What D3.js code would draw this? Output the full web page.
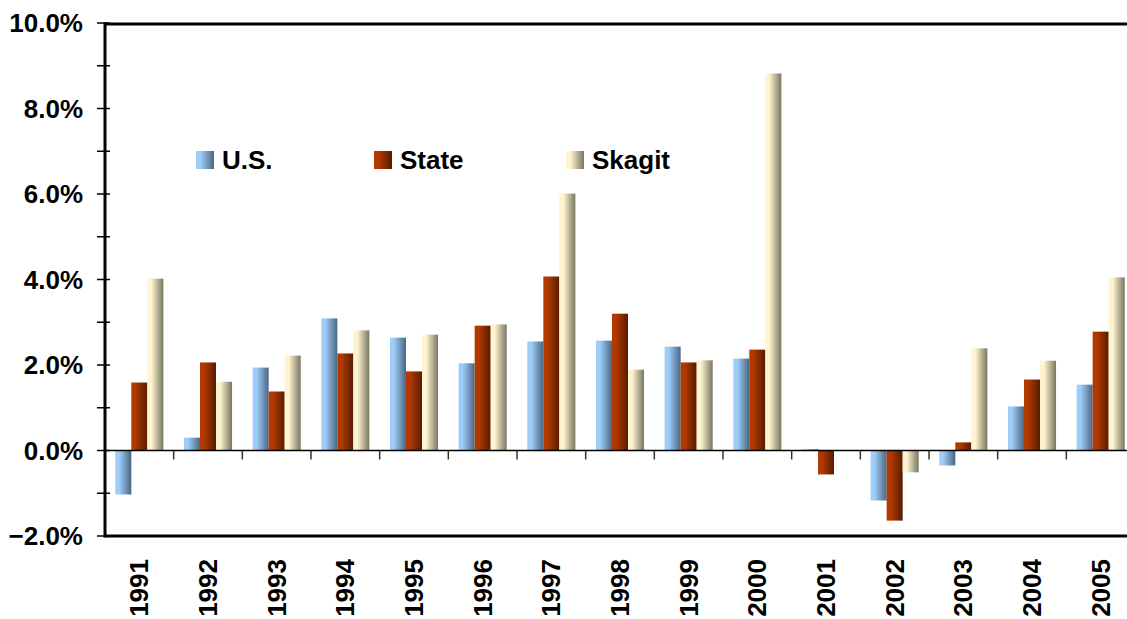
<!DOCTYPE html>
<html>
<head>
<meta charset="utf-8">
<script src="https://cdn.jsdelivr.net/npm/d3@7"></script>
<style>
    body { margin: 0; background: #fff; }
    text { font-family: Arial, "Liberation Sans", sans-serif; font-weight: bold; }
</style>
</head>
<body>
<div id="vis"></div>
<script>
// data (annual % change)
const years = ["1991", "1992", "1993", "1994", "1995", "1996", "1997", "1998",
    "1999", "2000", "2001", "2002", "2003", "2004", "2005"];
const seriesNames = ["U.S.", "State", "Skagit"];
const usValues = [-1.03, 0.30, 1.94, 3.09, 2.64, 2.04, 2.55, 2.57, 2.43, 2.15, 0.03, -1.17, -0.35, 1.03, 1.54];
const stateValues = [1.59, 2.06, 1.38, 2.27, 1.85, 2.92, 4.07, 3.20, 2.06, 2.36, -0.56, -1.64, 0.19, 1.66, 2.78];
const skagitValues = [4.02, 1.61, 2.22, 2.81, 2.71, 2.95, 6.01, 1.89, 2.11, 8.82, 0.00, -0.51, 2.39, 2.10, 4.05];
const yTicks = [-2, 0, 2, 4, 6, 8, 10];

const allValues = [usValues, stateValues, skagitValues];

const svg = d3.select("#vis")
    .append('svg')
    .attr("width", "1127")
    .attr("height", "619");

const width = +svg.attr("width");
const height = +svg.attr("height");

// gradient fills, light on the left, dark on the right
const gradColors = [
    ["#9dcdf8", "#4b6683"],
    ["#b23a00", "#571c00"],
    ["#fff4cf", "#7a7662"]
];
const defs = svg.append("defs");
gradColors.forEach(function (c, i) {
    const g = defs.append("linearGradient")
        .attr("id", "grad" + i)
        .attr("x1", "0%").attr("x2", "100%")
        .attr("y1", "0%").attr("y2", "0%");
    g.append("stop").attr("offset", "0%").attr("stop-color", c[0]);
    g.append("stop").attr("offset", "25%").attr("stop-color", c[0]);
    g.append("stop").attr("offset", "100%").attr("stop-color", c[1]);
});

const left = 105;
const x = d3.scaleBand()
    .domain(years)
    .range([left, 1135])
    .padding(0);

const groupW = x.bandwidth() * 0.7;
const xSub = d3.scaleBand()
    .domain(d3.range(seriesNames.length))
    .range([(x.bandwidth() - groupW) / 2, (x.bandwidth() + groupW) / 2]);

const y = d3.scaleLinear()
    .domain([-2, 10])
    .range([536, 23]);

// bars
allValues.forEach(function (vals, s) {
    svg.append("g")
        .selectAll("rect")
        .data(vals)
        .enter()
        .append("rect")
        .attr("x", (d, i) => x(years[i]) + xSub(s))
        .attr("width", xSub.bandwidth())
        .attr("y", d => y(Math.max(0, d)))
        .attr("height", d => Math.abs(y(d) - y(0)))
        .attr("fill", "url(#grad" + s + ")");
});

// zero line and category ticks
svg.append("line")
    .attr("x1", left).attr("x2", width)
    .attr("y1", y(0)).attr("y2", y(0))
    .attr("stroke", "#000")
    .attr("stroke-width", 1.5);

svg.append("g")
    .selectAll("line")
    .data(years.slice(1))
    .enter()
    .append("line")
    .attr("x1", d => x(d)).attr("x2", d => x(d))
    .attr("y1", y(0)).attr("y2", y(0) + 9)
    .attr("stroke", "#333")
    .attr("stroke-width", 1.5);

// frame: top, left, bottom
svg.append("line")
    .attr("x1", left).attr("x2", width)
    .attr("y1", y(10) + 1).attr("y2", y(10) + 1)
    .attr("stroke", "#000").attr("stroke-width", 3);

svg.append("line")
    .attr("x1", left).attr("x2", width)
    .attr("y1", y(-2)).attr("y2", y(-2))
    .attr("stroke", "#000").attr("stroke-width", 3);

svg.append("line")
    .attr("x1", left).attr("x2", left)
    .attr("y1", y(10) - 0.5).attr("y2", y(-2) + 1.5)
    .attr("stroke", "#000").attr("stroke-width", 3);

// y ticks (major every 2%, minor every 1%)
svg.append("g")
    .selectAll("line")
    .data(d3.range(-2, 11, 1))
    .enter()
    .append("line")
    .attr("x1", left - 8).attr("x2", left + 5)
    .attr("y1", d => y(d)).attr("y2", d => y(d))
    .attr("stroke", "#000")
    .attr("stroke-width", 1.5);

svg.append("g")
    .selectAll("text")
    .data(yTicks)
    .enter()
    .append("text")
    .attr("x", 83)
    .attr("y", d => y(d))
    .attr("dy", "0.36em")
    .attr("text-anchor", "end")
    .attr("font-size", "26px")
    .attr("fill", "#000")
    .text(d => d3.format(".1f")(d) + "%");

// x labels, rotated
svg.append("g")
    .selectAll("text")
    .data(years)
    .enter()
    .append("text")
    .attr("transform", d => "translate(" + (x(d) + x.bandwidth() / 2 + 9) + ",559) rotate(-90)")
    .attr("text-anchor", "end")
    .attr("font-size", "26px")
    .attr("fill", "#000")
    .text(d => d);

// legend
const legendX = [196, 374, 566];
const legend = svg.append("g");
seriesNames.forEach(function (name, i) {
    legend.append("rect")
        .attr("x", legendX[i])
        .attr("y", 151)
        .attr("width", 18)
        .attr("height", 18)
        .attr("fill", "url(#grad" + i + ")");
    legend.append("text")
        .attr("x", legendX[i] + 26)
        .attr("y", 169)
        .attr("font-size", "26px")
        .attr("fill", "#000")
        .text(name);
});
</script>
</body>
</html>
